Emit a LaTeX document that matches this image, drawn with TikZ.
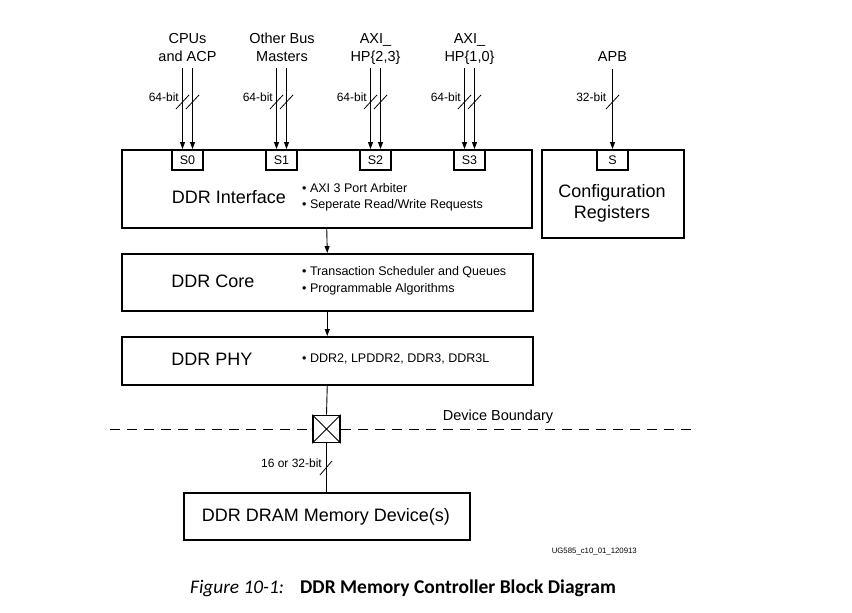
\documentclass[tikz,border=0pt]{standalone}
\usepackage{fontspec}
\setmainfont{Liberation Sans}
\newfontfamily\capfont{Carlito}
\usetikzlibrary{arrows.meta}
\tikzset{
  box/.style={draw, line width=1.5pt, inner sep=0pt, anchor=north west},
  port/.style={draw, line width=1.6pt, inner sep=0pt, anchor=north, minimum width=31pt, minimum height=20pt, font=\fontsize{12.5}{14}\selectfont},
  arr/.style={line width=0.9pt, -{Triangle[length=7pt,width=5pt]}},
  wire/.style={line width=0.9pt},
  slash/.style={line width=0.8pt},
  toplab/.style={align=center, inner sep=0pt, anchor=base, font=\fontsize{14.5}{18}\selectfont},
  bitlab/.style={anchor=east, inner sep=0pt, font=\fontsize{12}{14}\selectfont},
  bigtxt/.style={inner sep=0pt, font=\fontsize{18}{21}\selectfont, align=center},
  bullets/.style={anchor=west, inner sep=0pt, align=left, font=\fontsize{12.5}{16.5}\selectfont},
}
\begin{document}
\begin{tikzpicture}[x=1pt,y=-1pt]
\useasboundingbox (0,0) rectangle (852,613);
% main boxes
\node[box, minimum width=410pt, minimum height=78pt] (ifc) at (121,149) {};
\node[box, minimum width=142pt, minimum height=88pt] (cfg) at (541,149) {};
\node[box, minimum width=411pt, minimum height=57pt] (core) at (121,253) {};
\node[box, minimum width=411pt, minimum height=48pt] (phy) at (121,336) {};
\node[box, minimum width=286pt, minimum height=47pt] (dram) at (183,492) {};
% ports
\node[port] (s0) at (187.5,149) {S0};
\node[port] (s1) at (281.5,149) {S1};
\node[port] (s2) at (375.5,149) {S2};
\node[port] (s3) at (469.5,149) {S3};
\node[port] (s) at (612.5,149) {S};
% top labels
\node[toplab] (l0) at (187.5,61) {CPUs\\and ACP};
\node[toplab] (l1) at (282,61) {Other Bus\\Masters};
\node[toplab] (l2) at (375.5,61) {AXI\_\\HP\{2,3\}};
\node[toplab] (l3) at (469.5,61) {AXI\_\\HP\{1,0\}};
\node[toplab] (l4) at (612.5,61) {APB};
% input arrows with bus slashes
\foreach \p in {s0,s1,s2,s3}{
  \path (\p.north) coordinate (\p c);
  \coordinate (\p a) at ([xshift=-5pt]\p c |- 0,68);
  \coordinate (\p b) at ([xshift=5pt]\p c |- 0,68);
  \draw[arr] (\p a) -- (\p a |- \p.north);
  \draw[arr] (\p b) -- (\p b |- \p.north);
  \draw[slash] ([shift={(-6.5pt,-7pt)}]\p a |- 0,102) -- ([shift={(6.5pt,7pt)}]\p a |- 0,102);
  \draw[slash] ([shift={(-6.5pt,-7pt)}]\p b |- 0,102) -- ([shift={(6.5pt,7pt)}]\p b |- 0,102);
  \node[bitlab] at ([xshift=-3.5pt]\p a |- 0,97) {64-bit};
}
\coordinate (apb) at (612.5,69);
\draw[arr] (apb) -- (s.north);
\draw[slash] ([shift={(-6.5pt,-7pt)}]apb |- 0,102) -- ([shift={(6.5pt,7pt)}]apb |- 0,102);
\node[bitlab] at ([xshift=-6pt]apb |- 0,97) {32-bit};
% box texts
\node[bigtxt] (t1) at (229,197) {DDR Interface};
\node[bullets] (b1) at (302,197.5) {• AXI 3 Port Arbiter\\• Seperate Read/Write Requests};
\node[bigtxt] (t2) at (213,281) {DDR Core};
\node[bullets] (b2) at (302,281) {• Transaction Scheduler and Queues\\• Programmable Algorithms};
\node[bigtxt] (t3) at (212,359) {DDR PHY};
\node[bullets] (b3) at (302,359) {• DDR2, LPDDR2, DDR3, DDR3L};
\node[bigtxt] (t4) at (612,203.5) {Configuration\\Registers};
\node[bigtxt] (t5) at (326,517) {DDR DRAM Memory Device(s)};
% vertical flow
\draw[arr] (ifc.south) -- (core.north);
\draw[arr] (core.south) -- (phy.north);
\node[draw, line width=1.6pt, minimum size=27pt, inner sep=0pt] (xb) at (326.5,429) {};
\draw[line width=0.8pt] (xb.north west) -- (xb.south east) (xb.north east) -- (xb.south west);
\draw[wire] (phy.south) -- (xb.north);
\draw[wire] (xb.south) -- (xb.south |- dram.north);
\draw[slash] (320,475) -- (332,461);
\node[bitlab] at (322,463) {16 or 32-bit};
% device boundary
\coordinate (db1) at (110,429);
\coordinate (db2) at (692,429);
\draw[line width=0.9pt, dash pattern=on 10pt off 7pt] (db1) -- (xb.west);
\draw[line width=0.9pt, dash pattern=on 10pt off 7pt] (xb.east) -- (db2);
\node[inner sep=0pt, font=\fontsize{14.5}{18}\selectfont] (dbl) at (498,417) {Device Boundary};
% figure id and caption
\node[anchor=east, inner sep=0pt, font=\fontsize{7.8}{9}\selectfont] (fid) at (637,552) {UG585\_c10\_01\_120913};
\node[anchor=base west, inner sep=0pt, font=\capfont\itshape\fontsize{19.3}{22}\selectfont] (fl) at (190,593) {Figure 10-1:};
\node[anchor=base west, inner sep=0pt, font=\capfont\bfseries\fontsize{19.5}{22}\selectfont] (ft) at (300,593) {DDR Memory Controller Block Diagram};
\end{tikzpicture}
\end{document}
